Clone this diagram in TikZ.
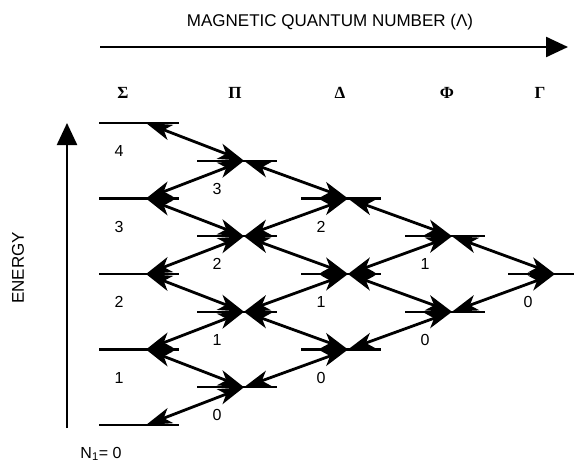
\documentclass[tikz,border=0pt]{standalone}
\usepackage{fontspec}
\setmainfont{Liberation Sans}
\newfontfamily\greekfont{Liberation Serif}
\usetikzlibrary{arrows.meta}

\begin{document}
\begin{tikzpicture}[x=1pt, y=-1pt,
    axis/.style={line width=2.4pt, -{Triangle[length=22pt, width=20pt]}},
    levelline/.style={line width=2.4pt},
    trans/.style={line width=2.8pt,
        {Stealth[length=26pt, width=16pt, inset=7pt]}-{Stealth[length=26pt, width=16pt, inset=7pt]}},
    num/.style={font=\fontsize{16}{19}\selectfont},
    axislabel/.style={font=\fontsize{17}{20}\selectfont},
    greek/.style={font=\greekfont\bfseries\fontsize{17}{20}\selectfont}]
    \useasboundingbox (0,0) rectangle (574,463);

    % Axes
    \node[axislabel] (title) at (330,22) {MAGNETIC QUANTUM NUMBER (Λ)};
    \coordinate (lamstart) at (100,47);
    \coordinate (lamend) at (568,47);
    \draw[axis] (lamstart) -- (lamend);

    \coordinate (ebottom) at (67,428);
    \coordinate (etop) at (67,123);
    \draw[axis] (ebottom) -- (etop);
    \node[axislabel, rotate=90] (energy) at (18,268) {ENERGY};

    % Lambda labels
    \foreach \k/\g/\gx in {0/Σ/123, 1/Π/235, 2/Δ/340, 3/Φ/447, 4/Γ/540}
        \node[greek] (lam\k) at (\gx,93) {\g};

    % Levels
    \foreach \k/\xm in {0/146, 1/244, 2/348, 3/452, 4/555} {
        \pgfmathtruncatemacro\nmax{4-\k}
        \foreach \n in {0,...,\nmax} {
            \coordinate (m\k\n) at (\xm,{425-37.75*(\k+2*\n)});
            \draw[levelline] ([xshift=-47pt]m\k\n) -- ([xshift=33pt]m\k\n);
            \ifnum\numexpr\k+\n\relax>0
                \node[num] (n\k\n) at ([shift={(-27,28)}]m\k\n) {\n};
            \fi
        }
    }
    \node[num, anchor=east] (nzero) at ([shift={(-21,29)}]m00) {N\textsubscript{1}= 0};

    % Transitions
    \foreach \k in {0,...,3} {
        \pgfmathtruncatemacro\nmax{4-\k}
        \pgfmathtruncatemacro\kk{\k+1}
        \foreach \n in {0,...,\nmax} {
            \ifnum\n<\nmax\relax
                \draw[trans] (m\k\n) -- (m\kk\n);
            \fi
            \ifnum\n>0\relax
                \pgfmathtruncatemacro\nn{\n-1}
                \draw[trans] (m\k\n) -- (m\kk\nn);
            \fi
        }
    }
\end{tikzpicture}
\end{document}
